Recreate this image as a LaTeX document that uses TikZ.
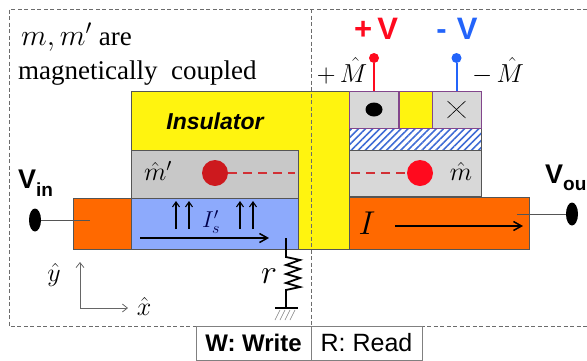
\documentclass[tikz,border=0pt]{standalone}
\usepackage{fix-cm}
\usepackage{amsmath}
\usepackage{fontspec}
\setmainfont{Liberation Serif}
\setsansfont{Liberation Sans}
\usetikzlibrary{positioning,patterns.meta,arrows.meta,shapes.geometric}
\definecolor{insyellow}{RGB}{255,244,15}
\definecolor{fmgrey}{RGB}{200,200,200}
\definecolor{lightgrey}{RGB}{216,216,216}
\definecolor{spinblue}{RGB}{141,170,252}
\definecolor{leadorange}{RGB}{255,105,0}
\definecolor{edgegrey}{RGB}{85,85,85}
\definecolor{probepurple}{RGB}{130,70,140}
\definecolor{probered}{RGB}{255,10,30}
\definecolor{probeblue}{RGB}{35,100,250}
\definecolor{dotred}{RGB}{205,25,30}
\tikzset{
	layer/.style={draw=edgegrey,line width=.8pt,inner sep=0pt,outer sep=0pt},
	probe/.style={draw=probepurple,line width=.7pt,fill=lightgrey,inner sep=0pt,outer sep=0pt,minimum width=49pt,minimum height=37pt},
	frameline/.style={draw=gray!85!black,line width=.7pt,dash pattern=on 4pt off 2.5pt},
	tabbox/.style={draw=gray,line width=.9pt,inner sep=0pt,minimum height=34pt},
	pinend/.style={circle,inner sep=0pt,minimum size=10pt},
	contact/.style={ellipse,fill=black,inner sep=0pt,minimum width=12pt,minimum height=23pt},
	bigarrow/.style={-{Straight Barb[length=8pt,width=9pt]},line width=1.5pt},
	spinarrow/.style={-{Straight Barb[length=5pt,width=7pt]},line width=1.1pt},
	axisline/.style={-{Straight Barb[length=5pt,width=8pt]},draw=gray!80!black,line width=.8pt},
	vlabel/.style={font=\sffamily\bfseries\fontsize{27}{27}\selectfont},
	probelabel/.style={font=\sffamily\bfseries\fontsize{31}{31}\selectfont},
	hatlabel/.style={font=\fontsize{26}{26}\selectfont,inner sep=0pt},
	redtrace/.style={dotred!90!white,line width=1.6pt,dash pattern=on 9pt off 6pt}
}
\newcommand{\subfont}{\fontsize{19}{19}\selectfont}
\begin{document}
\begin{tikzpicture}[x=1pt,y=-1pt]
	\useasboundingbox (0,0) rectangle (587,360);
	% insulator and layers
	\fill[insyellow] (131,91) rectangle (349,249);
	\draw[edgegrey,line width=.8pt] (349,91) -- (131,91) -- (131,150);
	\draw[edgegrey,line width=.8pt] (298,249) -- (349,249) -- (349,91);
	\node[layer,fill=fmgrey,minimum width=167pt,minimum height=48pt] (mprime) at (214.5,174) {};
	\node[layer,fill=spinblue,minimum width=167pt,minimum height=51pt] (sbar) at (214.5,223.5) {};
	\node[layer,fill=leadorange,minimum width=58pt,minimum height=51pt] (leadin) at (102,223.5) {};
	\node[layer,fill=lightgrey,minimum width=132pt,minimum height=46pt] (mfree) at (415,173) {};
	\node[layer,fill=leadorange,minimum width=180pt,minimum height=52pt] (leadout) at (439,223) {};
	\node[layer,minimum width=132pt,minimum height=22pt,pattern={Lines[angle=45,distance=5pt,line width=1.6pt]},pattern color=probeblue!70!gray] (hatch) at (415,139) {};
	\node[probe] (plusbox) at (374,109.5) {};
	\node[probe] (minusbox) at (456.5,109.5) {};
	\node[probe,fill=insyellow,minimum width=33pt] (gap) at (415.5,109.5) {};
	\fill (plusbox.center) ellipse (8.5pt and 7pt);
	\draw[line width=.6pt] (447.5,101) -- (465.5,118) (465.5,101) -- (447.5,118);
	% probes
	\node[pinend,fill=probered] (plustip) at (374,58) {};
	\node[pinend,fill=probeblue] (minustip) at (456.5,58) {};
	\draw[probered,line width=2pt] (plustip) -- (plusbox.north);
	\draw[probeblue,line width=2pt] (minustip) -- (minusbox.north);
	\node[probelabel,text=probered] (plusv) at (376,29) {+\,V};
	\node[probelabel,text=probeblue] (minusv) at (457,29) {-\,\,V};
	\node[hatlabel] (plusm) at (342,71) {$+\,\hat{M}$};
	\node[hatlabel] (minusm) at (498,71) {$-\,\hat{M}$};
	% magnetisation
	\node[circle,fill=dotred,inner sep=0pt,minimum size=26pt] (dotleft) at (215,173) {};
	\node[circle,fill=probered,inner sep=0pt,minimum size=26pt] (dotright) at (420,173) {};
	\coordinate (endleft) at (295,173);
	\coordinate (endright) at (351,173);
	\draw[redtrace] (dotleft) -- (endleft);
	\draw[redtrace] (endright) -- (dotright);
	\node[hatlabel] (mplabel) at (158,171) {$\hat{m}'$};
	\node[hatlabel] (mlabel) at (461,171) {$\hat{m}$};
	% currents
	\foreach \xa/\name in {176/a,189/b,240/c,253/d} {
		\coordinate (s\name) at (\xa,229);
		\coordinate (t\name) at (\xa,201);
		\draw[spinarrow] (s\name) -- (t\name);
	}
	\node[font=\fontsize{23}{23}\selectfont,text=black!70!blue,inner sep=0pt] (islabel) at (211,222) {$I'_s$};
	\coordinate (ia) at (140,238);
	\coordinate (ib) at (269,238);
	\draw[bigarrow] (ia) -- (ib);
	\node[font=\fontsize{33}{33}\selectfont,inner sep=0pt] (ilabel) at (367,223) {$I$};
	\coordinate (ic) at (395,226);
	\coordinate (id) at (523,226);
	\draw[bigarrow] (ic) -- (id);
	% contacts
	\node[contact] (vin) at (35,220) {};
	\node[contact] (vout) at (572,214) {};
	\draw[edgegrey,line width=.7pt] (vin) -- (90,220);
	\draw[edgegrey,line width=.7pt] (517,214) -- (vout);
	\node[vlabel,anchor=base west,inner sep=0pt] (vinlabel) at (18,188) {V\raisebox{-8pt}{\subfont in}};
	\node[vlabel,anchor=base west,inner sep=0pt] (voutlabel) at (545,183) {V\raisebox{-7pt}{\subfont ou}};
	% resistor
	\coordinate (ra) at (286,238);
	\coordinate (rb) at (286,308);
	\draw[line width=1.8pt] (ra) -- (286,257) -- (300,260) -- (286,265) -- (300,269) -- (286,274) -- (300,278) -- (286,283) -- (300,287) -- (286,290) -- (rb);
	\draw[line width=1.8pt] (275,308) -- (298,308);
	\foreach \xa in {275,280,285,290} {
		\draw[gray,line width=.6pt] (\xa+5,310) -- (\xa,320);
	}
	\node[font=\fontsize{34}{34}\selectfont,inner sep=0pt] (rlabel) at (269,276) {$r$};
	% axes
	\coordinate (origin) at (80,308);
	\coordinate (yend) at (80,262);
	\coordinate (xend) at (128,308);
	\draw[axisline] (origin) -- (yend);
	\draw[axisline] (origin) -- (xend);
	\node[hatlabel] (ylabel) at (54,275) {$\hat{y}$};
	\node[hatlabel] (xlabel) at (144,306) {$\hat{x}$};
	% frame
	\draw[frameline] (587,9) -- (9,9) -- (9,326) -- (587,326);
	\draw[frameline] (311,9) -- (311,360);
	% texts
	\node[font=\fontsize{27}{27}\selectfont,anchor=base west,inner sep=0pt] (note1) at (21,45) {{\fontsize{30}{30}\selectfont$m,m'$} are};
	\node[font=\fontsize{27}{27}\selectfont,anchor=base west,inner sep=0pt] (note2) at (18,79) {magnetically\ \ coupled};
	\node[font=\sffamily\itshape\bfseries\fontsize{23}{23}\selectfont] (inslabel) at (215,121) {Insulator};
	\node[tabbox,minimum width=115pt,font=\sffamily\bfseries\fontsize{24}{24}\selectfont] (write) at (253.5,343) {W: Write};
	\node[tabbox,minimum width=111pt,font=\sffamily\fontsize{25}{25}\selectfont] (read) at (366.5,343) {R: Read};
\end{tikzpicture}
\end{document}
